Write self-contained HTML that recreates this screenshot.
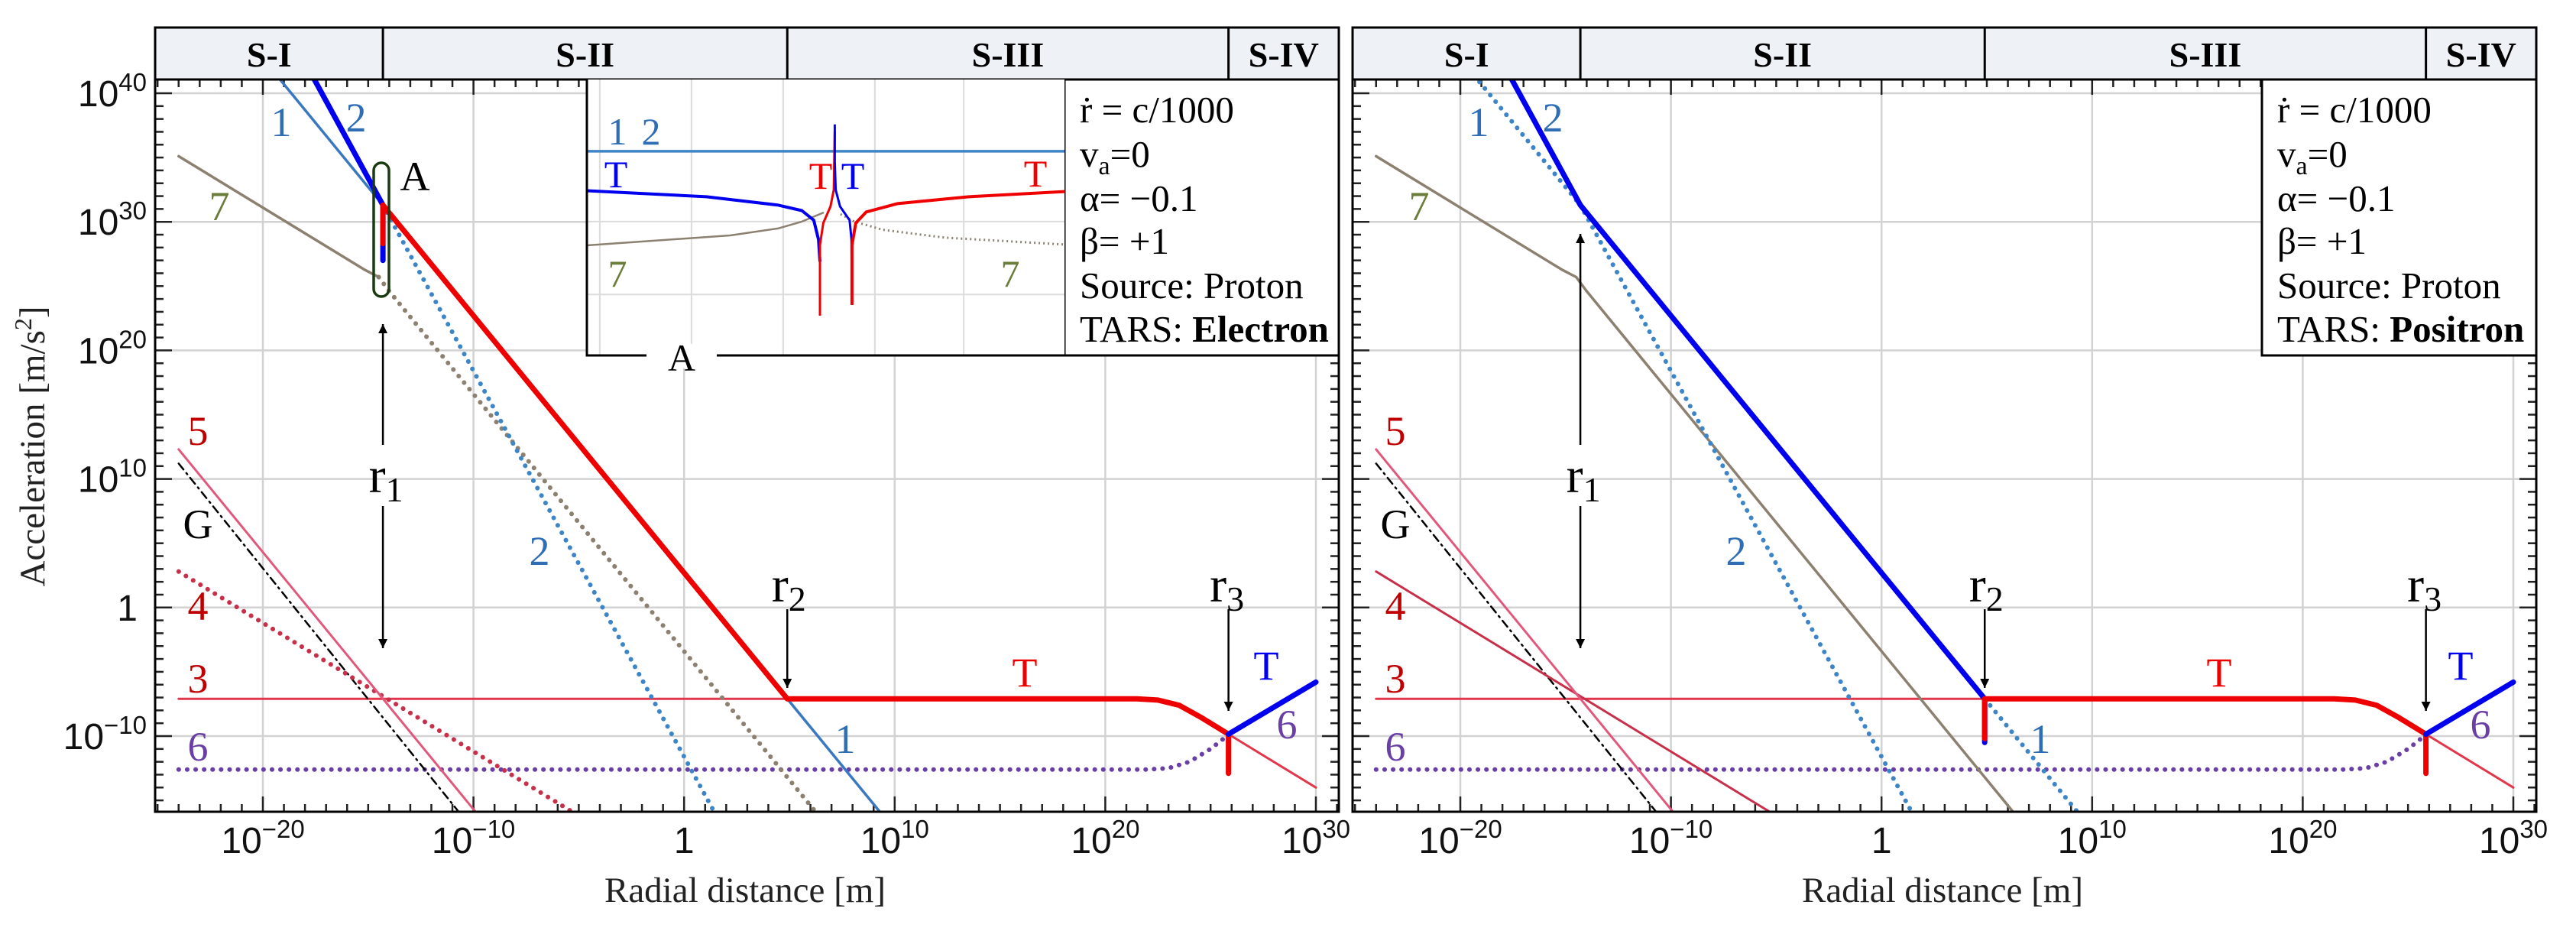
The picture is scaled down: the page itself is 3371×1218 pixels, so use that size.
<!DOCTYPE html>
<html><head><meta charset="utf-8"><style>
html,body{margin:0;padding:0;background:#fff;}
svg{display:block;}
</style></head><body>
<svg id="chart" xmlns="http://www.w3.org/2000/svg" width="3371" height="1218" viewBox="0 0 3371 1218"></svg>
<script>
// ---- data (log10 radial distance, log10 acceleration) ----
const xTicks = [-20, -10, 0, 10, 20, 30];
const xTickLabels = ["−20", "−10", "", "10", "20", "30"];
const yTicks = [40, 30, 20, 10, 0, -10];
const yTickLabels = ["40", "30", "20", "10", "", "−10"];
const sections = ["S-I", "S-II", "S-III", "S-IV"];
const sectionBounds = [-25.1, -14.3, 4.9, 25.85, 31.1];
const line1R = [-19.6, 9.35];
const line1A = [41.9, -16];
const line2R = [-17.9, 1.5];
const line2A = [42.1, -16.1];
const line7R = [-24, -15.2, -14.5, -14.0, 6.3];
const line7A = [35.1, 26.3, 25.7, 24.6, -16.0];
const line5R = [-24, -9.9];
const line5A = [12.3, -15.9];
const lineGR = [-24, -10.6];
const lineGA = [11.2, -16.1];
const line4R = [-24, -5];
const line4A = [2.8, -16.2];
const line3R = [-24, 21.5, 22.5, 23.5, 24.5, 25.85, 30];
const line3A = [-7.1, -7.1, -7.2, -7.6, -8.5, -9.85, -14];
const line6R = [-24, 22, 23, 24, 25, 25.85, 30];
const line6A = [-12.6, -12.6, -12.5, -12.0, -11.0, -9.9, -5.8];
const r1 = -14.3, r2 = 4.9, r3 = 25.85;
const plateauA = -7.1;
const tEndR = 30, tEndA = -5.8;
const r1Spike = [31.3, 28.3, 27.0];
const r2Spike = [-7.1, -10.2, -10.5];
const r3SpikeA = -12.9;
// inset (local 0..100 units)
const insetLine12V = 26;
const insetBlueLeftU = [0, 25, 40, 45, 47.5, 48.5, 48.8];
const insetBlueLeftV = [40.3, 42.5, 45.5, 47.5, 51, 58, 66];
const insetRedLeftU = [48.8, 48.8, 48.8, 49.5, 51, 51.7, 51.9];
const insetRedLeftV = [85.6, 66, 60, 52, 46, 40, 18.9];
const insetBlueRightU = [51.9, 51.9, 52.1, 53, 55, 55.4, 55.5];
const insetBlueRightV = [16.3, 30, 40, 46, 51, 58, 81.7];
const insetRedRightU = [55.5, 55.5, 56.3, 58.5, 65, 80, 100];
const insetRedRightV = [81.7, 60, 52, 48, 45, 42.5, 40.6];
const insetBrownU = [0, 30, 40, 45, 49.6];
const insetBrownV = [60.1, 56.5, 54, 51.5, 48.2];
const insetBrownDotU = [53.1, 56, 62, 75, 100];
const insetBrownDotV = [48.8, 51.5, 54.5, 57.3, 59.8];
const insetGridU = [2.7, 21.9, 41.1, 60.3, 78.9];
const insetGridV = [51.5, 77.9];

const NS = "http://www.w3.org/2000/svg";
const svg = document.getElementById('chart');
const PL = [203, 1770], PW = 1549, TOP = 104, BOT = 1062, HTOP = 36;
function X(e, p) { return PL[p] + 141 + (e + 20) * 27.56; }
function Y(e) { return 963 - (e + 10) * 16.82; }
function mk(tag, attrs, parent) {
  const el = document.createElementNS(NS, tag);
  for (const k in attrs) el.setAttribute(k, attrs[k]);
  (parent || svg).appendChild(el);
  return el;
}
function pathD(R, A, p) {
  return R.map((r, i) => (i ? 'L' : 'M') + X(r, p).toFixed(1) + ' ' + Y(A[i]).toFixed(1)).join(' ');
}
const SERIF = '"Liberation Serif", serif', SANS = '"Liberation Sans", sans-serif';

const defs = mk('defs', {});
for (let p = 0; p < 2; p++) {
  const cp = mk('clipPath', { id: 'clip' + p }, defs);
  mk('rect', { x: PL[p], y: TOP, width: PW, height: BOT - TOP }, cp);
}
const ah = mk('marker', { id: 'ah', viewBox: '0 0 10 10', refX: 10, refY: 5, markerWidth: 12, markerHeight: 12, markerUnits: 'userSpaceOnUse', orient: 'auto' }, defs);
mk('path', { d: 'M0 0 L10 5 L0 10 Z', fill: '#000' }, ah);

function txt(s, x, y, size, fill, opts, parent) {
  const t = mk('text', Object.assign({ x: x, y: y, 'font-size': size, fill: fill || '#000', 'font-family': SERIF, 'text-anchor': 'middle' }, opts || {}), parent);
  t.textContent = s;
  return t;
}

for (let p = 0; p < 2; p++) {
  const g = mk('g', {});
  
  
  const L = PL[p], R = PL[p] + PW;
  // header
  const hdr = mk('g', {}, g);
  
  
  mk('rect', { x: L, y: HTOP, width: PW, height: TOP - HTOP, fill: '#eef1f6', stroke: '#000', 'stroke-width': 3 }, hdr);
  for (let i = 0; i < sections.length; i++) {
    const a = Math.max(L, X(sectionBounds[i], p)), b = Math.min(R, X(sectionBounds[i + 1], p));
    if (i > 0) mk('line', { x1: a, y1: HTOP, x2: a, y2: TOP, stroke: '#000', 'stroke-width': 3 }, hdr);
    const t = txt(sections[i], (a + b) / 2, 87, 46, '#000', { 'font-weight': 'bold' }, hdr);
    
    
  }
  // grid
  const grid = mk('g', { stroke: '#d2d2d2', 'stroke-width': 2.5 }, g);
  
  
  xTicks.forEach(e => mk('line', { x1: X(e, p), y1: TOP, x2: X(e, p), y2: BOT }, grid));
  yTicks.forEach(e => mk('line', { x1: L, y1: Y(e), x2: R, y2: Y(e) }, grid));
  // ticks
  const tk = mk('g', { stroke: '#222', 'stroke-width': 2.5 }, g);
  
  
  for (let e = -25; e <= 31; e++) {
    const x = X(e, p); if (x < L + 2 || x > R - 2) continue;
    const len = (e % 10 === 0) ? 20 : 10;
    mk('line', { x1: x, y1: BOT, x2: x, y2: BOT - len }, tk);
    mk('line', { x1: x, y1: TOP, x2: x, y2: TOP + len }, tk);
  }
  for (let e = -15; e <= 41; e++) {
    const y = Y(e); if (y < TOP + 2 || y > BOT - 2) continue;
    const len = (e % 10 === 0) ? 22 : 11;
    mk('line', { x1: L, y1: y, x2: L + len, y2: y }, tk);
    mk('line', { x1: R, y1: y, x2: R - len, y2: y }, tk);
  }
  // curves
  const c = mk('g', { 'clip-path': 'url(#clip' + p + ')', fill: 'none', 'stroke-linecap': 'round', 'stroke-linejoin': 'round' }, g);
  function curve(name, d, stroke, w, dash) {
    const el = mk('path', { d: d, stroke: stroke, 'stroke-width': w }, c);
    if (dash) el.setAttribute('stroke-dasharray', dash);
    
    
    return el;
  }
  const DOT = '0.1 11';
  curve('curve-6', pathD(line6R, line6A, p), '#6a3fa5', 6, DOT);
  curve('curve-3', pathD(line3R, line3A, p), '#e2364a', 3);
  curve('curve-g', pathD(lineGR, lineGA, p), '#000', 2.5, '10 6 2 6');
  curve('curve-4', pathD(line4R, line4A, p), '#c8304a', p ? 3 : 6, p ? null : DOT);
  curve('curve-5', pathD(line5R, line5A, p), '#e2587c', 3);
  if (p === 0) {
    curve('curve-7-solid', pathD(line7R.slice(0, 3), line7A.slice(0, 3), p), '#8c8070', 3.5);
    curve('curve-7-dotted', pathD(line7R.slice(2), line7A.slice(2), p), '#8c8070', 6, DOT);
  } else {
    curve('curve-7', pathD(line7R, line7A, p), '#8c8070', 3.5);
  }
  const l2s = line2A[0] + (r1 - line2R[0]) * (line2A[1] - line2A[0]) / (line2R[1] - line2R[0]);
  curve('curve-2-dotted', pathD([r1, line2R[1]], [l2s, line2A[1]], p), '#3d85c6', 6, DOT);
  if (p === 0) curve('curve-1', pathD(line1R, line1A, p), '#3a78c0', 3.5);
  else curve('curve-1-dotted', pathD(line1R, line1A, p), '#3d85c6', 6, DOT);
  const l1r1 = line1A[0] + (r1 - line1R[0]) * (line1A[1] - line1A[0]) / (line1R[1] - line1R[0]);
  if (p === 0) {
    curve('t-curve-blue-s1', pathD([line2R[0], r1, r1], [line2A[0], l1r1, r1Spike[2]], p), '#0000ee', 7);
    curve('t-curve-red-s2', pathD([r1, r1, r2], [r1Spike[1], l1r1, plateauA], p), '#ee0000', 7);
  } else {
    curve('t-curve-blue-s1-s2', pathD([line2R[0], r1, r2, r2], [line2A[0], l1r1, plateauA, r2Spike[2]], p), '#0000ee', 7);
    curve('t-curve-red-r2-spike', pathD([r2, r2], [r2Spike[0], r2Spike[1]], p), '#ee0000', 7);
  }
  const pR = [r2].concat(line3R.slice(1, 6)), pA = [plateauA].concat(line3A.slice(1, 6));
  pR.push(r3); pA.push(r3SpikeA);
  curve('t-curve-red-s3', pathD(pR, pA, p), '#ee0000', 7);
  curve('t-curve-blue-s4', pathD([r3, tEndR], [line3A[5], tEndA], p), '#0000ee', 7);
  // frame
  const fr = mk('rect', { x: L, y: TOP, width: PW, height: BOT - TOP, fill: 'none', stroke: '#000', 'stroke-width': 3 }, g);
  
  
  // x tick labels
  xTicks.forEach((e, i) => {
    const t = mk('text', { x: X(e, p), y: 1116, 'font-size': 48, fill: '#111', 'font-family': SANS, 'text-anchor': 'middle' }, g);
    
    
    if (xTickLabels[i] === '') { t.textContent = '1'; return; }
    const a = mk('tspan', {}, t); a.textContent = '10';
    const b = mk('tspan', { dy: -20, 'font-size': 33 }, t); b.textContent = xTickLabels[i];
  });
  const xt = txt('Radial distance [m]', L + 772, 1180, 47, '#222', {}, g);
  
  
  // annotation arrows
  const arr = mk('g', { stroke: '#000', 'stroke-width': 2.5 }, g);
  
  
  const ax1 = X(r1, p);
  mk('line', { x1: ax1, y1: 582, x2: ax1, y2: p ? 306 : 424, 'marker-end': 'url(#ah)' }, arr);
  mk('line', { x1: ax1, y1: 662, x2: ax1, y2: 848, 'marker-end': 'url(#ah)' }, arr);
  mk('line', { x1: X(r2, p), y1: 797, x2: X(r2, p), y2: 900, 'marker-end': 'url(#ah)' }, arr);
  mk('line', { x1: X(r3, p), y1: 797, x2: X(r3, p), y2: 930, 'marker-end': 'url(#ah)' }, arr);
  function rl(sub, x, y) {
    const t = mk('text', { x: x, y: y, 'font-size': 66, 'font-family': SERIF, 'text-anchor': 'middle', fill: '#000' }, g);
    
    
    const a = mk('tspan', {}, t); a.textContent = 'r';
    const b = mk('tspan', { dy: 12, 'font-size': 46 }, t); b.textContent = sub;
  }
  rl('1', ax1 + 4, 644); rl('2', X(r2, p) + 2, 787); rl('3', X(r3, p) - 2, 787);
  // curve labels
  const o = p ? 1567 : 0;
  const labs = p ?
    [['1', 1935, 178, '#2f6db5'], ['2', 2032, 172, '#2f6db5'], ['7', 1857, 288, '#6b7d3a'], ['2', 2272, 739, '#2f6db5'], ['1', 2670, 985, '#2f6db5'], ['T', 2904, 898, '#ee0000'], ['T', 3220, 889, '#0000ee'], ['6', 3246, 966, '#6a3fa5']] :
    [['1', 368, 178, '#2f6db5'], ['2', 466, 172, '#2f6db5'], ['7', 287, 288, '#6b7d3a'], ['A', 543, 249, '#000'], ['2', 706, 739, '#2f6db5'], ['1', 1106, 985, '#2f6db5'], ['T', 1341, 898, '#ee0000'], ['T', 1657, 889, '#0000ee'], ['6', 1684, 966, '#6a3fa5']];
  const side = [['5', 582, '#c00000'], ['G', 704, '#000'], ['4', 811, '#c00000'], ['3', 906, '#c00000'], ['6', 995, '#6a3fa5']];
  side.forEach(s => labs.push([s[0], 259 + o, s[1], s[2]]));
  labs.forEach(l => {
    const t = txt(l[0], l[1], l[2], 54, l[3], {}, g);
    
    
  });
  // legend box
  const lg = mk('g', {}, g);
  
  
  mk('rect', { x: L + 1190, y: TOP, width: PW - 1190, height: 361, fill: '#fff', stroke: '#000', 'stroke-width': 3 }, lg);
  const lx = L + 1210;
  const lines = ['ṙ = c/1000', null, 'α= −0.1', 'β= +1', 'Source: Proton', null];
  const ly = [160, 218, 276, 332, 390, 447];
  lines.forEach((s, i) => {
    const t = mk('text', { x: lx, y: ly[i], 'font-size': 49, 'font-family': SERIF, fill: '#000' }, lg);
    if (i === 1) {
      const a = mk('tspan', {}, t); a.textContent = 'v';
      const b = mk('tspan', { dy: 10, 'font-size': 34 }, t); b.textContent = 'a';
      const c2 = mk('tspan', { dy: -10 }, t); c2.textContent = '=0';
    } else if (i === 5) {
      const a = mk('tspan', {}, t); a.textContent = 'TARS: ';
      const b = mk('tspan', { 'font-weight': 'bold' }, t); b.textContent = p ? 'Positron' : 'Electron';
    } else t.textContent = s;
  });
}

// left-panel-only: y axis labels, A box, inset
yTicks.forEach((e, i) => {
  const t = mk('text', { x: 192, y: Y(e) + 17, 'font-size': 48, fill: '#111', 'font-family': SANS, 'text-anchor': 'end' });
  
  
  if (yTickLabels[i] === '') { t.setAttribute('x', 180); t.textContent = '1'; return; }
  const a = mk('tspan', {}, t); a.textContent = '10';
  const b = mk('tspan', { dy: -20, 'font-size': 33 }, t); b.textContent = yTickLabels[i];
});
const yt = mk('text', { x: 0, y: 0, 'font-size': 47, fill: '#222', 'font-family': SERIF, 'text-anchor': 'middle', transform: 'translate(58,584) rotate(-90)' });


yt.appendChild(document.createTextNode('Acceleration [m/s'));
const ys = mk('tspan', { dy: -17, 'font-size': 32 }, yt); ys.textContent = '2';
const ye = mk('tspan', { dy: 17 }, yt); ye.textContent = ']';

const abox = mk('rect', { x: 489, y: 213, width: 20, height: 175, rx: 10, fill: 'none', stroke: '#1a3a12', 'stroke-width': 3.5 });



const ins = mk('g', {});


function IX(u) { return 768 + u * 6.25; }
function IY(v) { return 104 + v * 3.61; }
function ipath(U, V) { return U.map((u, i) => (i ? 'L' : 'M') + IX(u).toFixed(1) + ' ' + IY(V[i]).toFixed(1)).join(' '); }
mk('rect', { x: 768, y: 104, width: 625, height: 361, fill: '#fff' }, ins);
insetGridU.forEach(u => mk('line', { x1: IX(u), y1: 104, x2: IX(u), y2: 465, stroke: '#dcdcdc', 'stroke-width': 2 }, ins));
insetGridV.forEach(v => mk('line', { x1: 768, y1: IY(v), x2: 1393, y2: IY(v), stroke: '#dcdcdc', 'stroke-width': 2 }, ins));
function ic(name, d, stroke, w, dash) {
  const el = mk('path', { d: d, stroke: stroke, 'stroke-width': w, fill: 'none', 'stroke-linejoin': 'round' }, ins);
  if (dash) el.setAttribute('stroke-dasharray', dash);
  
  
}
ic('inset-curve-1-2', ipath([0, 100], [insetLine12V, insetLine12V]), '#3d85c6', 3.5);
ic('inset-curve-7', ipath(insetBrownU, insetBrownV), '#8c8070', 2.5);
ic('inset-curve-7-dotted', ipath(insetBrownDotU, insetBrownDotV), '#8c8070', 3, '2 4');
ic('inset-t-blue-left', ipath(insetBlueLeftU, insetBlueLeftV), '#0000ee', 4);
ic('inset-t-red-left', ipath(insetRedLeftU, insetRedLeftV), '#ee0000', 3);
ic('inset-t-blue-right', ipath(insetBlueRightU, insetBlueRightV), '#0000ee', 3);
ic('inset-t-red-right', ipath(insetRedRightU, insetRedRightV), '#ee0000', 4);
mk('polyline', { points: '768,104 768,465 1393,465', fill: 'none', stroke: '#000', 'stroke-width': 3 }, ins);
mk('rect', { x: 846, y: 450, width: 92, height: 32, fill: '#fff' }, ins);
[['1', 808, 189, '#2f6db5'], ['2', 852, 189, '#2f6db5'], ['T', 806, 245, '#0000ee'], ['T', 1074, 247, '#ee0000'], ['T', 1116, 247, '#0000ee'], ['T', 1355, 244, '#ee0000'], ['7', 808, 375, '#6b7d3a'], ['7', 1322, 375, '#6b7d3a'], ['A', 892, 485, '#000']].forEach(l => {
  const t = txt(l[0], l[1], l[2], 50, l[3], {}, ins);
  
  
});
</script>
</body></html>
